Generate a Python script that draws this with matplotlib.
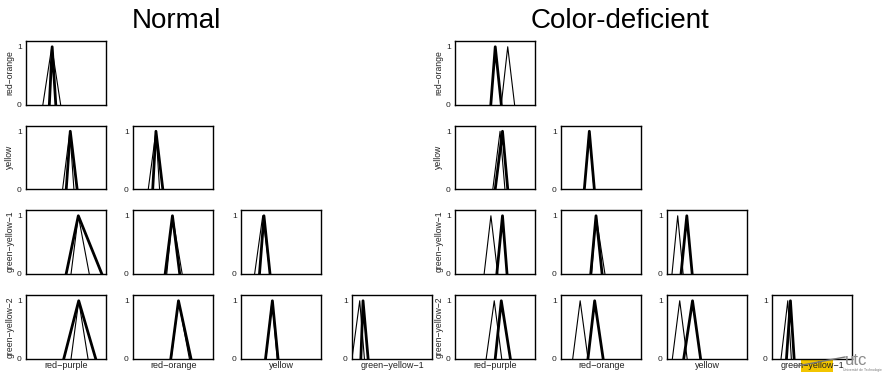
import matplotlib
matplotlib.use("Agg")
import matplotlib.pyplot as plt
from matplotlib.patches import Rectangle
from matplotlib.lines import Line2D

plt.rcParams['font.family'] = ['Liberation Sans', 'DejaVu Sans']

row_names = ["red\u2212orange", "yellow", "green\u2212yellow\u22121", "green\u2212yellow\u22122"]
col_names = ["red\u2212purple", "red\u2212orange", "yellow", "green\u2212yellow\u22121"]
y_ticks = [0, 1]

# triangle (left, peak, right) for each lower-triangle cell, row by row
normal_thin = [
    [(0.21, 0.32, 0.43)],
    [(0.455, 0.545, 0.595), (0.19, 0.285, 0.33)],
    [(0.56, 0.65, 0.785), (0.42, 0.49, 0.61), (0.17, 0.27, 0.36)],
    [(0.56, 0.655, 0.77), (0.475, 0.565, 0.70), (0.31, 0.385, 0.45), (0.0, 0.096, 0.154)],
]
normal_thick = [
    [(0.29, 0.325, 0.37)],
    [(0.50, 0.55, 0.635), (0.245, 0.285, 0.37)],
    [(0.50, 0.65, 0.94), (0.40, 0.49, 0.58), (0.23, 0.285, 0.36)],
    [(0.47, 0.655, 0.865), (0.47, 0.565, 0.72), (0.305, 0.39, 0.46), (0.11, 0.137, 0.20)],
]
deficient_thin = [
    [(0.575, 0.655, 0.74)],
    [(0.47, 0.56, 0.62), (0.29, 0.35, 0.41)],
    [(0.3625, 0.446, 0.53), (0.38, 0.435, 0.545), (0.0625, 0.133, 0.2)],
    [(0.3875, 0.4875, 0.58), (0.146, 0.238, 0.335), (0.067, 0.158, 0.25), (0.1125, 0.196, 0.24)],
]
deficient_thick = [
    [(0.445, 0.5, 0.575)],
    [(0.50, 0.59, 0.655), (0.29, 0.352, 0.414)],
    [(0.52, 0.59, 0.646), (0.37, 0.435, 0.51), (0.175, 0.246, 0.3125)],
    [(0.5, 0.575, 0.6875), (0.335, 0.418, 0.523), (0.208, 0.317, 0.417), (0.18, 0.229, 0.275)],
]

W, H = 887, 372
fig = plt.figure(figsize=(W / 100, H / 100), dpi=100)

row_tops = [41, 125.5, 210, 295]
panel_h = 63.5
panel_w = 80.5
normal_lefts = [26, 133, 241, 352]
deficient_lefts = [455, 561, 667, 772]


def draw_grid(lefts, thin, thick):
    for r in range(4):
        for c in range(r + 1):
            x0 = lefts[c] / W
            y0 = 1 - (row_tops[r] + panel_h) / H
            ax = fig.add_axes([x0, y0, panel_w / W, panel_h / H])
            a, b, d = thin[r][c]
            ax.plot([a, b, d], [0, 1, 0], color='black', lw=0.8)
            a, b, d = thick[r][c]
            ax.plot([a, b, d], [0, 1, 0], color='black', lw=2.0)
            ax.set_xlim(0, 1)
            ax.set_ylim(0, 1.1)
            ax.set_xticks([])
            ax.set_yticks(y_ticks)
            ax.set_yticklabels([str(t) for t in y_ticks])
            ax.tick_params(axis='y', length=0, pad=3, labelsize=6, labelcolor='#222222')
            for s in ax.spines.values():
                s.set_linewidth(1.0)
            if c == 0:
                ax.set_ylabel(row_names[r], fontsize=6.2, labelpad=2, color='#222222')
            if r == 3:
                ax.set_xlabel(col_names[c], fontsize=6.5, labelpad=1.5, color='#222222')


# utc logo block sits behind the last column label
fig.add_artist(Rectangle((801 / W, 0), 32 / W, 13.5 / H, transform=fig.transFigure,
                         facecolor='#f2c500', edgecolor='none', zorder=-1))

draw_grid(normal_lefts, normal_thin, normal_thick)
draw_grid(deficient_lefts, deficient_thin, deficient_thick)

fig.text(176 / W, 1 - 28 / H, "Normal", fontsize=20, ha='center', va='baseline')
fig.text(620 / W, 1 - 28 / H, "Color-deficient", fontsize=20, ha='center', va='baseline')

fig.add_artist(Line2D([797 / W, 845 / W], [1 - 366 / H, 1 - 357 / H], transform=fig.transFigure,
                      color='#777777', lw=1.0, zorder=6))
fig.text(845 / W, 1 - 368 / H, "utc", fontsize=12, color='#8a8a8a', ha='left', va='bottom', zorder=6)
fig.text(843 / W, 1 - 368.5 / H, "Universit\u00e9 de Technologie", fontsize=2.4, color='#777777',
         ha='left', va='top', zorder=6)

fig.savefig("out.png", dpi=100)
